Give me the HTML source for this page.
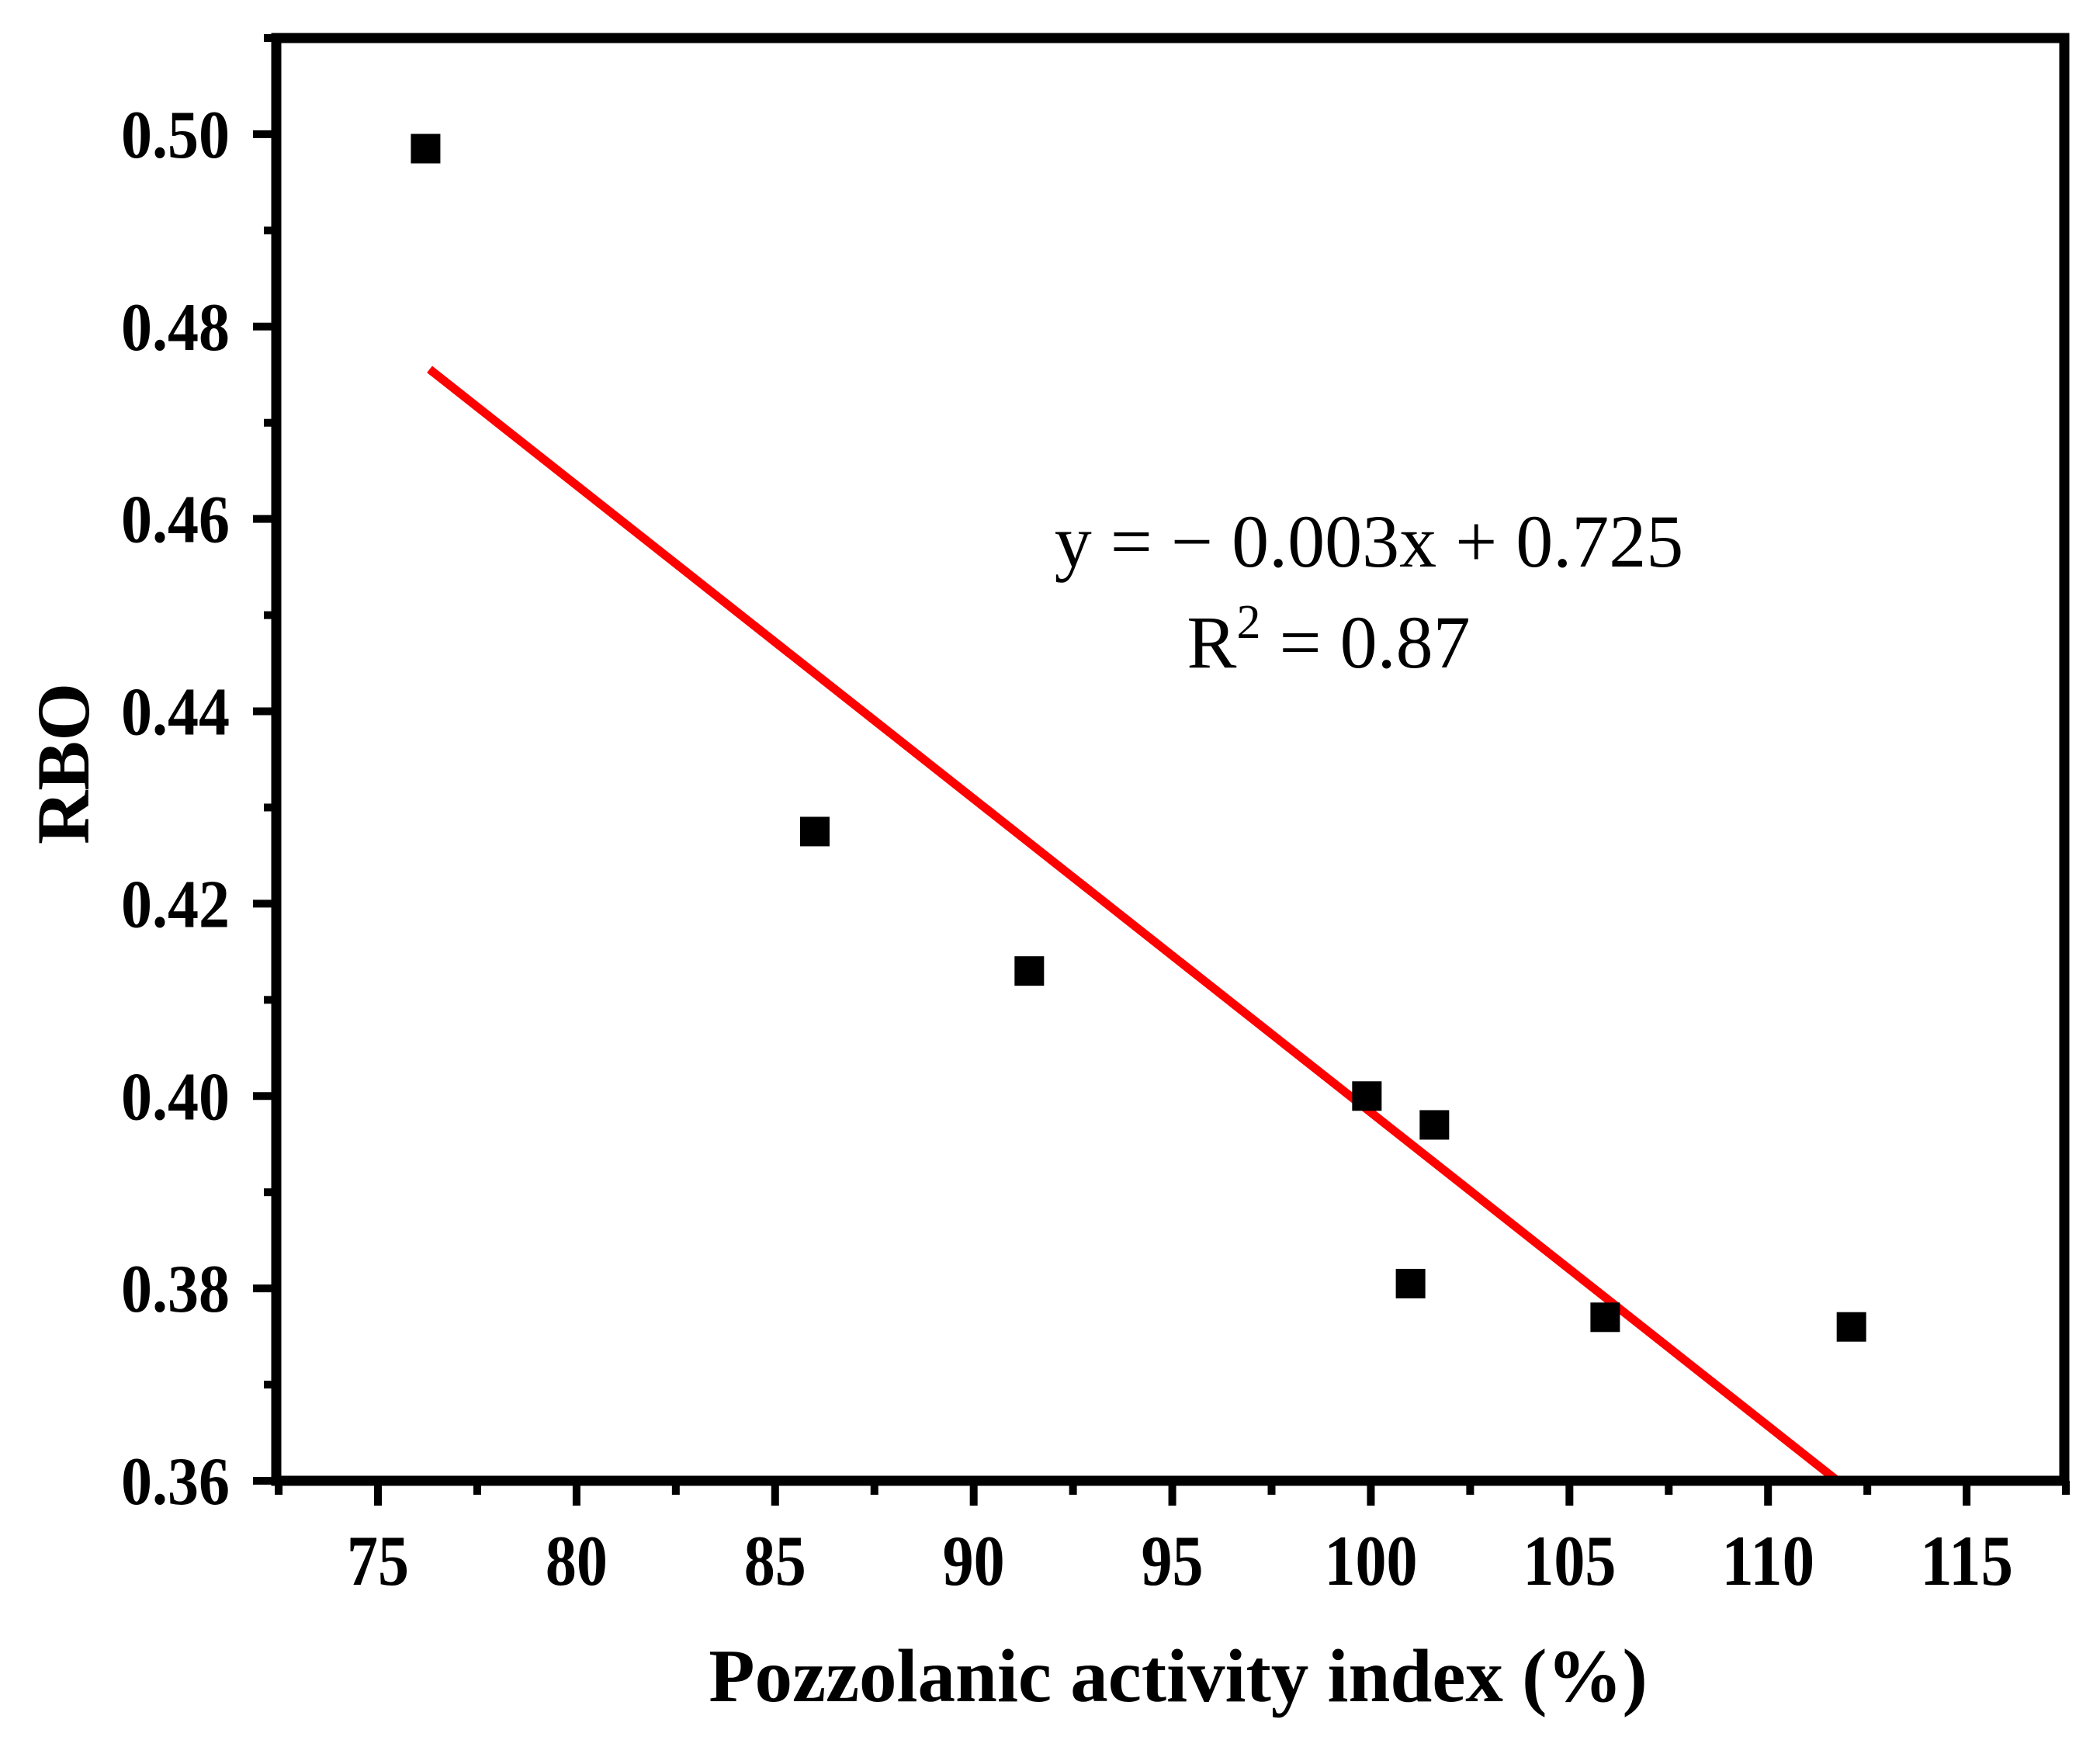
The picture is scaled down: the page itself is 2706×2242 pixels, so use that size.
<!DOCTYPE html>
<html><head><meta charset="utf-8"><style>
html,body{margin:0;padding:0;background:#fff;}
svg{display:block;font-family:"Liberation Serif",serif;}
</style></head><body>
<svg id="chart" width="2706" height="2242" viewBox="0 0 2706 2242">
<g id="plot"></g>
</svg>
<script>
const xVals = [76.2, 86.0, 91.4, 99.9, 101.6, 101.0, 105.9, 112.1];
const yVals = [0.4985, 0.4275, 0.413, 0.400, 0.397, 0.3805, 0.377, 0.376];
const xTicks = [75, 80, 85, 90, 95, 100, 105, 110, 115];
const yTicks = [0.36, 0.38, 0.40, 0.42, 0.44, 0.46, 0.48, 0.50];
const fitSlope = -0.00326;
const fitIntercept = 0.7243;
const fitRange = [76.3, 111.7];

const L=356, R=2660, T=49, B=1908;
const xMin=72.44, xMax=117.46, yMin=0.36, yMax=0.51;
const sx = v => L + (v - xMin) / (xMax - xMin) * (R - L);
const sy = v => B - (v - yMin) / (yMax - yMin) * (B - T);
const NS='http://www.w3.org/2000/svg';
const g=document.getElementById('plot');
function mk(tag, attrs, parent){const e=document.createElementNS(NS,tag);for(const k in attrs)e.setAttribute(k,attrs[k]);(parent||g).appendChild(e);return e;}

const fl=mk('line',{x1:sx(fitRange[0]),y1:sy(fitSlope*fitRange[0]+fitIntercept),x2:sx(fitRange[1]),y2:sy(fitSlope*fitRange[1]+fitIntercept),stroke:'#ff0000','stroke-width':11});



xVals.forEach((x,i)=>{
  const s=38;
  const r=mk('rect',{x:sx(x)-s/2,y:sy(yVals[i])-s/2,width:s,height:s,fill:'#000'});
  
  
});

const fr=mk('rect',{x:L,y:T,width:R-L,height:B-T,fill:'none',stroke:'#000','stroke-width':13});



for(let v=72.5; v<=117.5; v+=2.5){
  const major = Math.abs(v%5)<1e-6;
  const t=mk('line',{x1:sx(v),y1:B,x2:sx(v),y2:B+(major?32:18),stroke:'#000','stroke-width':10});
  
  
}
xTicks.forEach(v=>{
  const t=mk('text',{x:sx(v),y:2042,'text-anchor':'middle','font-size':92,'font-weight':'bold',textLength:String(v).length*40,lengthAdjust:'spacingAndGlyphs'});
  t.textContent=v;
  
  
});
for(let k=0;k<=15;k++){
  const v=yMin+k*0.01;
  const major=k%2===0;
  const t=mk('line',{x1:L,y1:sy(v),x2:L-(major?30:16),y2:sy(v),stroke:'#000','stroke-width':10});
  
  
}
yTicks.forEach(v=>{
  const t=mk('text',{x:296,y:sy(v)+30,'text-anchor':'end','font-size':88,'font-weight':'bold',textLength:140,lengthAdjust:'spacingAndGlyphs'});
  t.textContent=v.toFixed(2);
  
  
});
</script>
<svg style="position:absolute;left:0;top:0" width="2706" height="2242">
<text x="1518" y="2192" text-anchor="middle" font-size="97" font-weight="bold" font-family="Liberation Serif, serif">Pozzolanic activity index (%)</text>
<text transform="translate(114,984) rotate(-90)" text-anchor="middle" font-size="96" font-weight="bold" font-family="Liberation Serif, serif">RBO</text>
<text x="1764" y="730" text-anchor="middle" font-size="96" font-family="Liberation Serif, serif">y = − 0.003x + 0.725</text>
<text x="1712" y="860" text-anchor="middle" font-size="96" font-family="Liberation Serif, serif">R<tspan dy="-38" font-size="62">2</tspan><tspan dy="38"> = 0.87</tspan></text>
</svg>
</body></html>
